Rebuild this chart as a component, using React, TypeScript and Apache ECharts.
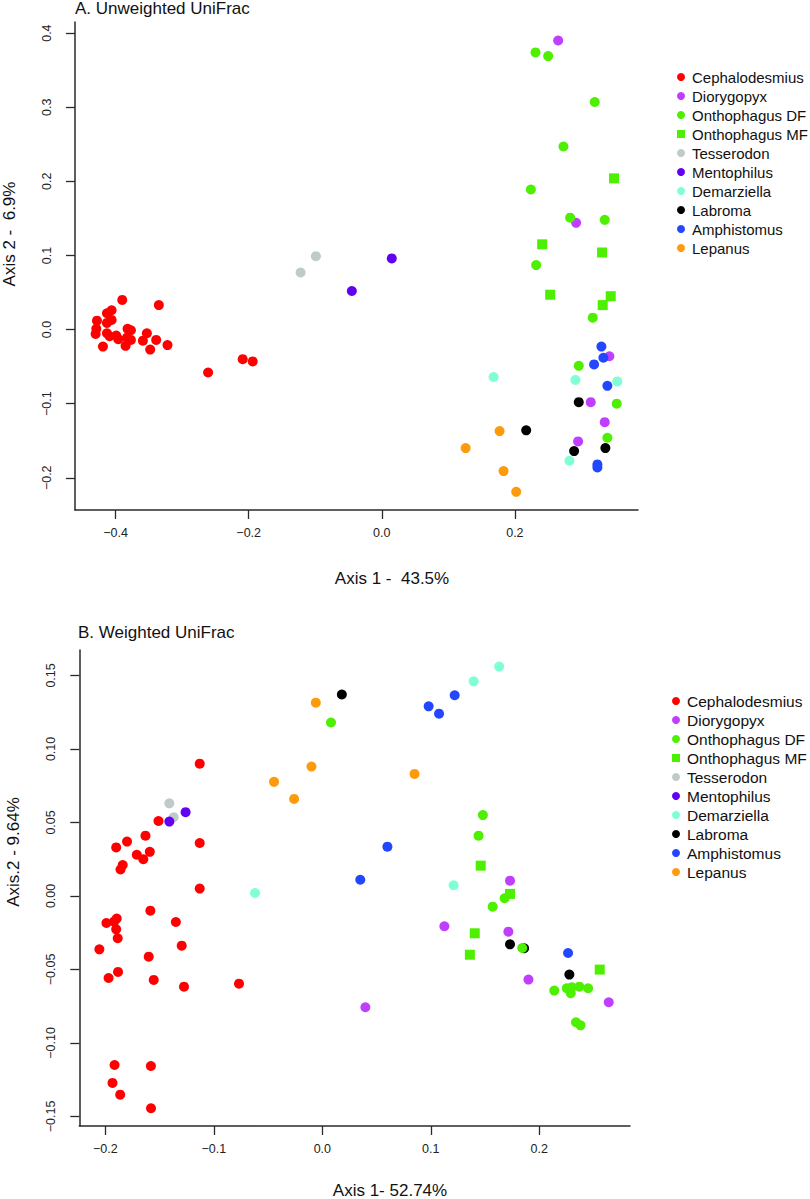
import React, { useEffect, useRef } from "react";
import * as echarts from "echarts";

// ---- groups / styling keys ----
const groups = [
  "Cephalodesmius",
  "Diorygopyx",
  "Onthophagus DF",
  "Onthophagus MF",
  "Tesserodon",
  "Mentophilus",
  "Demarziella",
  "Labroma",
  "Amphistomus",
  "Lepanus",
];
const groupColors = [
  "#FF0000",
  "#BF3EFF",
  "#4CF000",
  "#4CF000",
  "#C1CACA",
  "#6200F0",
  "#7FFFD4",
  "#000000",
  "#2347FF",
  "#FF9A0A",
];
const groupShapes = ["circle", "circle", "circle", "rect", "circle", "circle", "circle", "circle", "circle", "circle"];

// ---- Panel A: Unweighted UniFrac ----
const cephA = [
  [-0.39, 0.04], [-0.335, 0.033], [-0.428, 0.012], [-0.406, 0.026], [-0.413, 0.022],
  [-0.406, 0.013], [-0.413, 0.009], [-0.429, 0.001], [-0.43, -0.006], [-0.413, -0.005],
  [-0.409, -0.009], [-0.399, -0.008], [-0.396, -0.013], [-0.382, 0.001], [-0.377, -0.001],
  [-0.383, -0.011], [-0.377, -0.014], [-0.385, -0.022], [-0.419, -0.023], [-0.353, -0.005],
  [-0.359, -0.015], [-0.339, -0.014], [-0.348, -0.027], [-0.322, -0.021], [-0.261, -0.058],
  [-0.209, -0.04], [-0.194, -0.043],
];
const dioA = [[0.265, 0.39], [0.292, 0.144], [0.342, -0.036], [0.314, -0.098], [0.335, -0.125], [0.295, -0.151]];
const dfA = [
  [0.231, 0.374], [0.25, 0.369], [0.32, 0.307], [0.273, 0.247], [0.224, 0.189], [0.283, 0.151],
  [0.335, 0.148], [0.232, 0.087], [0.317, 0.016], [0.296, -0.049], [0.353, -0.1], [0.339, -0.146],
];
const mfA = [[0.349, 0.204], [0.241, 0.115], [0.331, 0.104], [0.253, 0.047], [0.344, 0.045], [0.332, 0.033]];
const tessA = [[-0.122, 0.077], [-0.099, 0.099]];
const mentA = [[0.015, 0.096], [-0.045, 0.052]];
const demA = [[0.168, -0.064], [0.291, -0.068], [0.354, -0.07], [0.282, -0.177]];
const labA = [[0.296, -0.098], [0.217, -0.136], [0.289, -0.164], [0.336, -0.16]];
const ampA = [[0.33, -0.023], [0.333, -0.038], [0.319, -0.047], [0.339, -0.076], [0.324, -0.182], [0.324, -0.186]];
const lepA = [[0.177, -0.137], [0.126, -0.16], [0.183, -0.191], [0.202, -0.219]];

// ---- Panel B: Weighted UniFrac ----
const cephB = [
  [-0.113, 0.09], [-0.151, 0.051], [-0.163, 0.041], [-0.18, 0.037], [-0.19, 0.033], [-0.113, 0.036],
  [-0.159, 0.03], [-0.171, 0.028], [-0.165, 0.025], [-0.184, 0.021], [-0.186, 0.018], [-0.113, 0.005],
  [-0.1585, -0.01], [-0.135, -0.0177], [-0.199, -0.0184], [-0.1895, -0.0154], [-0.192, -0.0175],
  [-0.19, -0.0227], [-0.1886, -0.0288], [-0.1296, -0.0338], [-0.2055, -0.0363], [-0.16, -0.0413],
  [-0.1883, -0.0517], [-0.197, -0.0558], [-0.1554, -0.0571], [-0.1275, -0.0617], [-0.0768, -0.0597],
  [-0.1915, -0.115], [-0.158, -0.1157], [-0.1934, -0.1272], [-0.1863, -0.1352], [-0.1579, -0.1444],
];
const dioB = [[0.173, 0.0104], [0.1125, -0.0206], [0.1715, -0.0243], [0.19, -0.0569], [0.264, -0.0723], [0.0397, -0.0757]];
const dfB = [
  [0.008, 0.118], [0.148, 0.055], [0.144, 0.041], [0.168, -0.0016], [0.157, -0.0073], [0.1843, -0.0354],
  [0.2138, -0.0644], [0.2253, -0.0628], [0.23, -0.0621], [0.229, -0.0662], [0.237, -0.0617], [0.245, -0.0628],
  [0.2338, -0.0859], [0.238, -0.088],
];
const mfB = [[0.146, 0.0206], [0.173, 0.0014], [0.1405, -0.0254], [0.136, -0.04], [0.2557, -0.0501]];
const tessB = [[-0.141, 0.063], [-0.137, 0.0535]];
const mentB = [[-0.126, 0.057], [-0.141, 0.0506]];
const demB = [[0.163, 0.156], [0.1395, 0.146], [0.121, 0.0073], [-0.062, 0.002]];
const labB = [[0.018, 0.137], [0.173, -0.0329], [0.186, -0.0356], [0.2277, -0.0535]];
const ampB = [[0.122, 0.1365], [0.098, 0.129], [0.1076, 0.124], [0.06, 0.0335], [0.035, 0.011], [0.2265, -0.0388]];
const lepB = [[-0.006, 0.1315], [-0.0445, 0.0776], [-0.01, 0.088], [-0.026, 0.066], [0.085, 0.083]];

// ---- ticks ----
const xTicksA = [-0.4, -0.2, 0.0, 0.2];
const yTicksA = [-0.2, -0.1, 0.0, 0.1, 0.2, 0.3, 0.4];
const xTicksB = [-0.2, -0.1, 0.0, 0.1, 0.2];
const yTicksB = [-0.15, -0.1, -0.05, 0.0, 0.05, 0.1, 0.15];

const panelA = [cephA, dioA, dfA, mfA, tessA, mentA, demA, labA, ampA, lepA];
const panelB = [cephB, dioB, dfB, mfB, tessB, mentB, demB, labB, ampB, lepB];
// draw order (Labroma underneath so overlapping green covers it)
const drawOrder = [7, 0, 1, 2, 3, 4, 5, 6, 8, 9];

const FONT = "'Liberation Sans', Arial, Helvetica, sans-serif";
const AXIS_COLOR = "#2a2a2a";

function fmt(dec: number) {
  return (v: number) => {
    const s = Math.abs(v).toFixed(dec);
    return (v < -1e-9 ? "\u2212" : "") + s;
  };
}

function xAxisCfg(grid: number, min: number, max: number, ticks: number[], dec: number) {
  return {
    type: "value",
    gridIndex: grid,
    min,
    max,
    axisLine: { show: true, onZero: false, lineStyle: { color: AXIS_COLOR, width: 1.5 } },
    axisTick: { show: true, customValues: ticks, length: 9, lineStyle: { color: AXIS_COLOR, width: 1.3 } },
    axisLabel: {
      customValues: ticks,
      formatter: fmt(dec),
      margin: 16,
      fontSize: 12.5,
      color: "#222",
      fontFamily: FONT,
    },
    splitLine: { show: false },
  };
}

function yAxisCfg(grid: number, min: number, max: number, ticks: number[], dec: number) {
  return {
    type: "value",
    gridIndex: grid,
    min,
    max,
    axisLine: { show: true, onZero: false, lineStyle: { color: AXIS_COLOR, width: 1.5 } },
    axisTick: { show: true, customValues: ticks, length: 9, lineStyle: { color: AXIS_COLOR, width: 1.3 } },
    axisLabel: {
      customValues: ticks,
      formatter: fmt(dec),
      rotate: 90,
      margin: 22,
      fontSize: 12.5,
      color: "#222",
      fontFamily: FONT,
    },
    splitLine: { show: false },
  };
}

function legendCfg(left: number, top: number, fontSize: number) {
  return {
    orient: "vertical",
    left,
    top,
    itemWidth: 8,
    itemHeight: 8,
    itemGap: 3,
    selectedMode: false,
    textStyle: { fontSize, fontFamily: FONT, color: "#111", lineHeight: 16, padding: [0, 0, 0, 2] },
    data: groups.map((g, i) => ({ name: g, icon: groupShapes[i], itemStyle: { color: groupColors[i] } })),
  };
}

export default function App() {
  const ref = useRef<HTMLDivElement>(null);
  useEffect(() => {
    document.body.style.margin = "0";
    if (!ref.current) return;
    const chart = echarts.init(ref.current, undefined, { renderer: "svg" });

    const series: any[] = [];
    [panelA, panelB].forEach((panel, p) => {
      drawOrder.forEach((i) => {
        series.push({
          type: "scatter",
          name: groups[i],
          xAxisIndex: p,
          yAxisIndex: p,
          data: panel[i],
          symbol: groupShapes[i],
          symbolSize: 10,
          itemStyle: { color: groupColors[i], opacity: 1 },
          emphasis: { disabled: true },
        });
      });
    });

    const option: any = {
      animation: false,
      backgroundColor: "#ffffff",
      grid: [
        { left: 75, top: 22, width: 563, height: 488, containLabel: false },
        { left: 79.3, top: 650, width: 550.7, height: 476, containLabel: false },
      ],
      xAxis: [xAxisCfg(0, -0.461, 0.385, xTicksA, 1), xAxisCfg(1, -0.224, 0.2836, xTicksB, 1)],
      yAxis: [yAxisCfg(0, -0.2435, 0.415, yTicksA, 1), yAxisCfg(1, -0.1565, 0.1673, yTicksB, 2)],
      legend: [legendCfg(672, 64, 15), legendCfg(667, 688, 15.5)],
      graphic: [
        {
          type: "text",
          left: 75,
          top: 0,
          style: { text: "A. Unweighted UniFrac", fontSize: 17, fontFamily: FONT, fill: "#111" },
        },
        {
          type: "text",
          x: 392,
          y: 578,
          style: { text: "Axis 1 -  43.5%", fontSize: 17, fontFamily: FONT, fill: "#111", align: "center", verticalAlign: "middle" },
        },
        {
          type: "text",
          x: 9,
          y: 234,
          rotation: Math.PI / 2,
          style: { text: "Axis 2 -  6.9%", fontSize: 17, fontFamily: FONT, fill: "#111", align: "center", verticalAlign: "middle" },
        },
        {
          type: "text",
          x: 78,
          y: 632,
          style: { text: "B. Weighted UniFrac", fontSize: 17, fontFamily: FONT, fill: "#111", align: "left", verticalAlign: "middle" },
        },
        {
          type: "text",
          x: 390,
          y: 1199,
          style: { text: "Axis 1- 52.74%", fontSize: 17, fontFamily: FONT, fill: "#111", align: "center", verticalAlign: "bottom" },
        },
        {
          type: "text",
          x: 13,
          y: 852,
          rotation: Math.PI / 2,
          style: { text: "Axis.2 - 9.64%", fontSize: 17, fontFamily: FONT, fill: "#111", align: "center", verticalAlign: "middle" },
        },
      ],
      series,
    };
    chart.setOption(option);
    return () => chart.dispose();
  }, []);
  return <div ref={ref} style={{ width: 810, height: 1199 }} />;
}
